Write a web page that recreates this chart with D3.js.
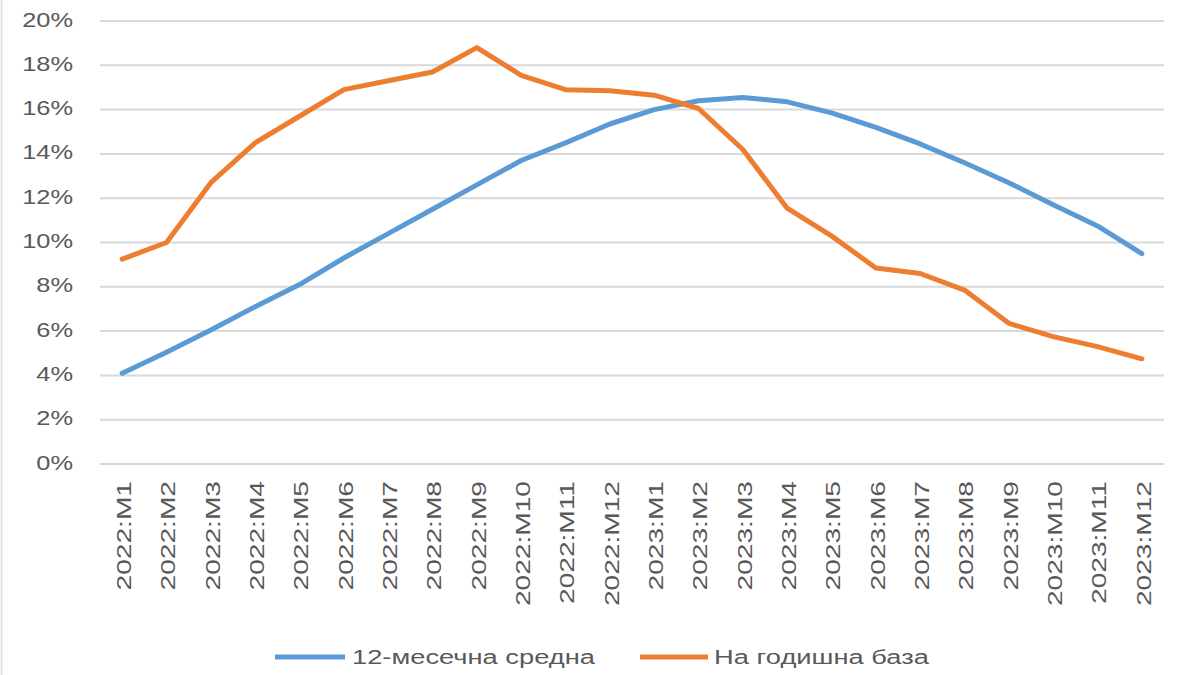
<!DOCTYPE html>
<html><head><meta charset="utf-8">
<script src="https://cdn.jsdelivr.net/npm/d3@7"></script>
<style>
html,body{margin:0;padding:0;background:#fff;}
svg{display:block;}
text{font-family:"Liberation Sans",Arial,sans-serif;}
</style></head>
<body>
<svg id="c" width="1200" height="675"></svg>
<script>
const categories = ["2022:M1","2022:M2","2022:M3","2022:M4","2022:M5","2022:M6","2022:M7","2022:M8","2022:M9","2022:M10","2022:M11","2022:M12",
"2023:M1","2023:M2","2023:M3","2023:M4","2023:M5","2023:M6","2023:M7","2023:M8","2023:M9","2023:M10","2023:M11","2023:M12"];
const avg12 = [4.1,5.05,6.05,7.1,8.1,9.3,10.4,11.5,12.6,13.7,14.5,15.35,16.0,16.4,16.55,16.35,15.85,15.2,14.45,13.6,12.7,11.7,10.75,9.5];
const yoy = [9.25,10.0,12.7,14.5,15.7,16.9,17.3,17.7,18.8,17.55,16.9,16.85,16.65,16.05,14.2,11.55,10.3,8.85,8.6,7.85,6.35,5.75,5.3,4.75];
const yTicks = [0,2,4,6,8,10,12,14,16,18,20];
const seriesNames = ["12-месечна средна","На годишна база"];
const colors = ["#5B9BD5","#ED7D31"];

const svg = d3.select("#c");
const pL = 100, pR = 1164, pT = 21, pB = 464;
const x = d3.scalePoint().domain(categories).range([pL, pR]).padding(0.5);
const y = d3.scaleLinear().domain([0, 20]).range([pB, pT]);

// faint left border
svg.append("line").attr("x1", 1.5).attr("x2", 1.5).attr("y1", 0).attr("y2", 675)
  .attr("stroke", "#e4e4e4").attr("stroke-width", 2);

// gridlines
svg.append("g").selectAll("line").data(yTicks).join("line")
  .attr("x1", pL).attr("x2", pR)
  .attr("y1", d => y(d)).attr("y2", d => y(d))
  .attr("stroke", "#d9d9d9").attr("stroke-width", 2);

// y axis labels
const ya = svg.append("g").attr("transform", `translate(${pL},0)`)
  .call(d3.axisLeft(y).tickValues(yTicks).tickSize(0).tickFormat(d => d + "%"));
ya.select(".domain").remove();
ya.selectAll("text").attr("font-size", 20).attr("fill", "#595959")
  .attr("x", 0).attr("text-anchor", "end").attr("dy", "0.3em")
  .attr("transform", "translate(-27,-1) scale(1.27,1)");

// x axis labels
const xa = svg.append("g").attr("transform", `translate(0,${pB})`)
  .call(d3.axisBottom(x).tickSize(0).tickPadding(0));
xa.select(".domain").remove();
xa.selectAll("text")
  .attr("font-size", 21).attr("fill", "#595959")
  .attr("text-anchor", "end").attr("dy", "0.35em").attr("dx", 0)
  .attr("transform", "translate(1,17) rotate(-90) scale(1.34,1)")
  .attr("y", 0).attr("x", 0);

// lines
const line = d3.line().x((d, i) => x(categories[i])).y(d => y(d));
[avg12, yoy].forEach((s, k) => {
  svg.append("path").datum(s).attr("d", line)
    .attr("fill", "none").attr("stroke", colors[k]).attr("stroke-width", 5)
    .attr("stroke-linejoin", "round").attr("stroke-linecap", "round");
});

// legend
const legend = [{x0: 275, x1: 345, tx: 352}, {x0: 640, x1: 708, tx: 714}];
legend.forEach((L, k) => {
  svg.append("line").attr("x1", L.x0).attr("x2", L.x1).attr("y1", 657).attr("y2", 657)
    .attr("stroke", colors[k]).attr("stroke-width", 5);
  svg.append("text").attr("x", 0).attr("y", 0).attr("dy", "0.35em")
    .attr("transform", `translate(${L.tx},657) scale(1.3,1)`)
    .attr("font-size", 21).attr("fill", "#595959").text(seriesNames[k]);
});
</script>
</body></html>
